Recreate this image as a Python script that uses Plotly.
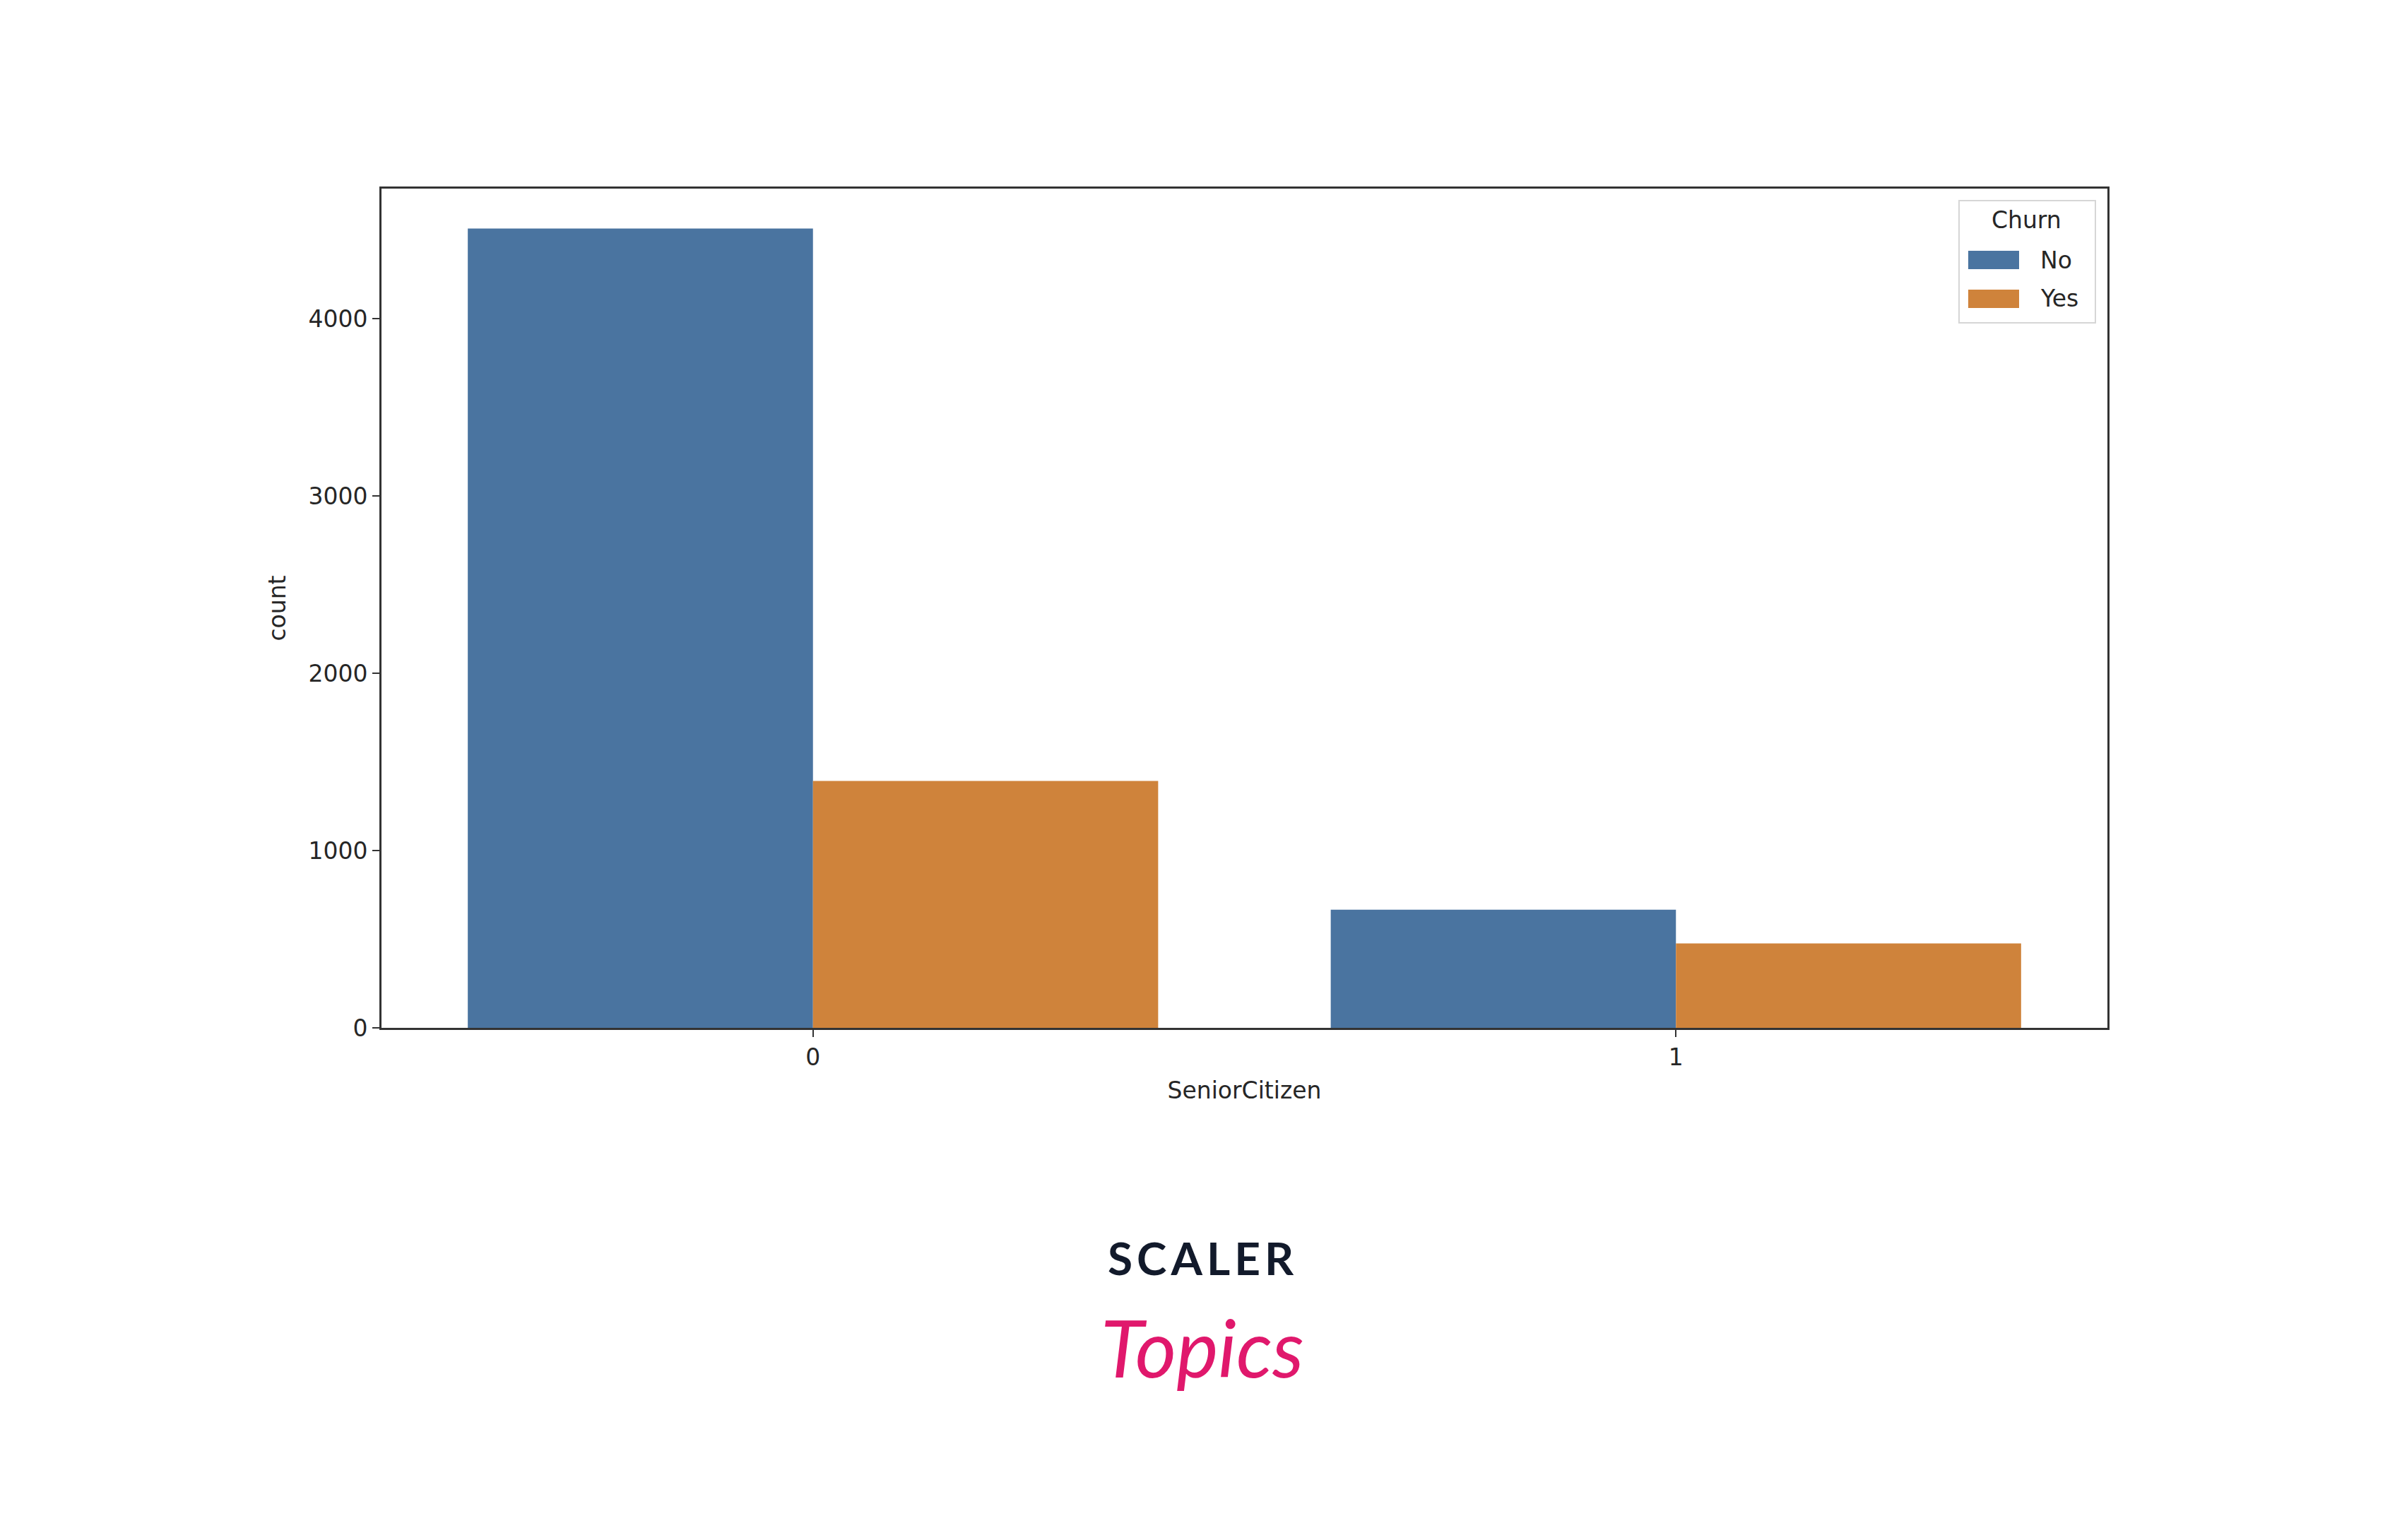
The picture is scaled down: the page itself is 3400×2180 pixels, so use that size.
import plotly.graph_objects as go

# Data
categories = [0, 1]
tick_labels = ["0", "1"]
series_names = ["No", "Yes"]
no_counts = [4508, 666]
yes_counts = [1393, 476]
y_ticks = [0, 1000, 2000, 3000, 4000]

colors = ["#4a74a0", "#cf833b"]
W, H = 3400, 2180
OFF = 8  # browser body margin
# target plot box in page pixels
PX0, PX1, PY0, PY1 = 540, 2983, 267, 1455
L, R, T, B = PX0 - OFF, W - PX1 + OFF, PY0 - OFF, H - PY1 + OFF
font_main = "DejaVu Sans"
txt_col = "#262626"

fig = go.Figure()
for name, vals, col in zip(series_names, [no_counts, yes_counts], colors):
    fig.add_trace(go.Bar(x=categories, y=vals, name=name, marker=dict(color=col, line=dict(width=0)),
                         showlegend=False))

ymax = max(no_counts + yes_counts) * 1.05

fig.update_layout(
    width=W, height=H,
    margin=dict(l=L, r=R, t=T, b=B, autoexpand=False),
    paper_bgcolor="white", plot_bgcolor="white",
    barmode="group", bargap=0.2, bargroupgap=0.0,
    font=dict(family=font_main, size=33, color=txt_col),
    xaxis=dict(
        range=[-0.5, 1.5], tickvals=categories, ticktext=tick_labels,
        showline=True, mirror=True, linecolor="#333333", linewidth=3,
        ticks="outside", ticklen=10, tickwidth=2, tickcolor="#333333",
        showgrid=False, zeroline=False,
        title=dict(text="SeniorCitizen", standoff=18, font=dict(size=33, color=txt_col)),
        tickfont=dict(size=33, color=txt_col),
    ),
    yaxis=dict(
        range=[0, ymax], tickvals=y_ticks,
        showline=True, mirror=True, linecolor="#333333", linewidth=3,
        ticks="outside", ticklen=10, tickwidth=2, tickcolor="#333333",
        showgrid=False, zeroline=False,
        title=dict(text="count", standoff=22, font=dict(size=33, color=txt_col)),
        tickfont=dict(size=33, color=txt_col),
    ),
)

# Custom legend (matplotlib-style); positions given as page pixels
def px(x):
    return (x - PX0) / (PX1 - PX0)

def py(y):
    return 1 - (y - PY0) / (PY1 - PY0)

fig.add_shape(type="rect", xref="paper", yref="paper",
              x0=px(2773), x1=px(2966), y0=py(457), y1=py(284),
              line=dict(color="#d6d6d6", width=2), fillcolor="rgba(255,255,255,0.85)")
fig.add_annotation(xref="paper", yref="paper", x=px(2868), y=py(312), text="Churn",
                   showarrow=False, font=dict(size=33, color=txt_col), xanchor="center", yanchor="middle")
for i, (name, col) in enumerate(zip(series_names, colors)):
    yc = 368 + i * 55
    fig.add_shape(type="rect", xref="paper", yref="paper",
                  x0=px(2786), x1=px(2858), y0=py(yc + 13), y1=py(yc - 13),
                  line=dict(width=0), fillcolor=col)
    fig.add_annotation(xref="paper", yref="paper", x=px(2886), y=py(yc), text=name,
                       showarrow=False, font=dict(size=33, color=txt_col), xanchor="left", yanchor="middle")

# Logo text
fig.add_annotation(xref="paper", yref="paper", x=px(1702), y=py(1780),
                   text="<b><span style='letter-spacing:6px'>SCALER</span></b>",
                   showarrow=False, font=dict(family="Lato", size=64, color="#121a2b"),
                   xanchor="center", yanchor="middle")
fig.add_annotation(xref="paper", yref="paper", x=px(1702), y=py(1906),
                   text="<i>Topics</i>",
                   showarrow=False, font=dict(family="Lato", size=112, color="#e0186c"),
                   xanchor="center", yanchor="middle")

fig.write_html("out.html")
